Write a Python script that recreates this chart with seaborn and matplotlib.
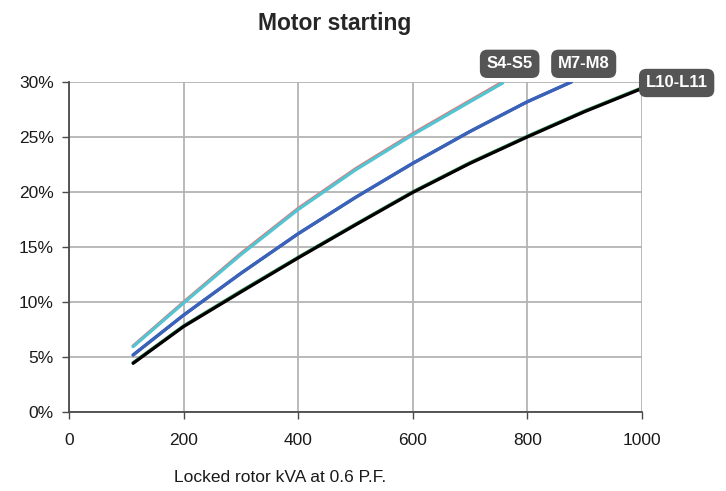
import numpy as np
import pandas as pd
import matplotlib
matplotlib.use("Agg")
import matplotlib.pyplot as plt
from matplotlib.ticker import FuncFormatter
import seaborn as sb

# data (kVA vs voltage dip %)
kva_s = [112, 200, 300, 400, 500, 600, 700, 757]
s4 = [6.0, 9.98, 14.4, 18.5, 22.1, 25.3, 28.3, 30.0]
s5 = [5.94, 9.9, 14.3, 18.4, 22.0, 25.2, 28.2, 29.9]

kva_m = [112, 200, 300, 400, 500, 600, 700, 800, 877]
m7 = [5.18, 8.8, 12.6, 16.2, 19.5, 22.6, 25.5, 28.2, 30.0]
m8 = [5.18, 8.8, 12.6, 16.2, 19.5, 22.6, 25.5, 28.2, 30.0]

kva_l = [112, 200, 300, 400, 500, 600, 700, 800, 900, 1000]
l10 = [4.48, 7.82, 10.98, 14.06, 17.06, 20.01, 22.66, 25.06, 27.36, 29.46]
l11 = [4.42, 7.76, 10.9, 14.0, 17.0, 19.95, 22.6, 25.0, 27.3, 29.4]

series = {"S4": (kva_s, s4), "S5": (kva_s, s5),
          "M7": (kva_m, m7), "M8": (kva_m, m8),
          "L10": (kva_l, l10), "L11": (kva_l, l11)}
colors = {"S4": "#e07878", "S5": "#52c4d2", "M7": "#3a62b8", "M8": "#3a62b8",
          "L10": "#2f8f55", "L11": "#000000"}

rows = []
for name, (xs, ys) in series.items():
    for x, y in zip(xs, ys):
        rows.append([name, x, y])
df = pd.DataFrame(rows, columns=["Frame", "kVA", "Dip"])

sb.set_style("white")
plt.rcParams['font.family'] = ['Liberation Sans', 'DejaVu Sans']

fig = plt.figure(figsize=(7.26, 4.91), dpi=100)
ax = fig.add_axes([0.095, 0.161, 0.789, 0.672])

sb.lineplot(data=df, x="kVA", y="Dip", hue="Frame", palette=colors,
            linewidth=2.3, legend=False, ax=ax, sort=False)

ax.set_xlim(0, 1000)
ax.set_ylim(0, 30)
ax.set_xticks(range(0, 1001, 200))
ax.set_yticks(range(0, 31, 5))
ax.yaxis.set_major_formatter(FuncFormatter(lambda v, p: "%d%%" % v))
ax.grid(True, color="#b4b4b4", linewidth=1.3)
ax.set_axisbelow(True)
for s in ["top", "right"]:
    ax.spines[s].set_visible(False)
for s in ["left", "bottom"]:
    ax.spines[s].set_color("#4a4a4a")
    ax.spines[s].set_linewidth(1.3)
ax.tick_params(axis="both", length=5, width=1, color="#4a4a4a",
               labelsize=12.5, labelcolor="#1a1a1a")
ax.tick_params(axis="y", direction="out", left=True, pad=6)
ax.tick_params(axis="x", direction="out", bottom=True, pad=10)
ax.set_xlabel("")
ax.set_ylabel("")

fig.text(0.461, 0.952, "Motor starting", ha="center", va="center",
         fontsize=16.5, fontweight="bold")
fig.text(0.386, 0.028, "Locked rotor kVA at 0.6 P.F.", ha="center", va="center",
         fontsize=12.5, color="#1a1a1a")

box = dict(boxstyle="round,pad=0.4,rounding_size=0.45", fc="#555555", ec="none")
for txt, x, y in [("S4-S5", 0.702, 0.870), ("M7-M8", 0.804, 0.870), ("L10-L11", 0.932, 0.831)]:
    fig.text(x, y, txt, ha="center", va="center", color="white",
             fontsize=12, fontweight="bold", bbox=box)

plt.savefig("out.png", dpi=100)
